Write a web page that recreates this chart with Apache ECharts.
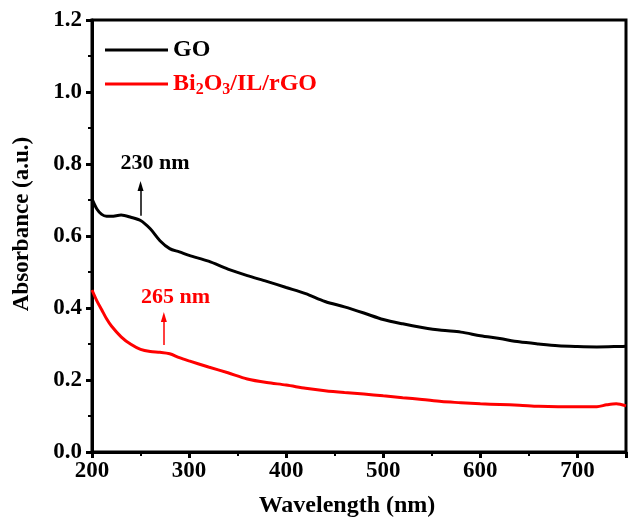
<!DOCTYPE html>
<html>
<head>
<meta charset="utf-8">
<script src="https://cdn.jsdelivr.net/npm/echarts@6/dist/echarts.min.js"></script>
<style>html,body{margin:0;padding:0;background:#fff}#c{width:630px;height:525px}</style>
</head>
<body>
<div id="c"></div>
<script>
var goWave = [200,205,210,215,220,230,240,250,260,270,280,290,300,320,340,360,380,400,420,440,460,480,500,520,540,560,580,600,620,640,660,680,700,720,740,750];
var goAbs  = [0.703,0.675,0.660,0.655,0.655,0.658,0.652,0.643,0.620,0.587,0.565,0.556,0.546,0.530,0.508,0.490,0.474,0.457,0.440,0.418,0.403,0.386,0.368,0.356,0.346,0.338,0.333,0.323,0.315,0.306,0.300,0.295,0.293,0.292,0.293,0.294];
var bgWave = [200,205,210,215,220,230,240,250,260,270,280,290,300,320,340,360,380,400,420,440,460,480,500,520,540,560,580,600,620,640,660,680,700,720,730,740,750];
var bgAbs  = [0.450,0.420,0.395,0.370,0.350,0.320,0.299,0.285,0.279,0.277,0.273,0.262,0.253,0.236,0.220,0.203,0.193,0.186,0.177,0.170,0.165,0.161,0.156,0.151,0.146,0.140,0.137,0.134,0.132,0.130,0.127,0.126,0.126,0.126,0.131,0.134,0.128];
var xTicks = {min:200, max:750, interval:100};
var yTicks = {min:0, max:1.2, interval:0.2};
var seriesNames = ['GO','Bi2O3/IL/rGO'];
var peakGO = {label:'230 nm', textAt:[265,0.803], arrowFrom:[250,0.656], arrowTo:[250,0.739]};
var peakBG = {label:'265 nm', textAt:[286,0.430], arrowFrom:[274,0.297], arrowTo:[274,0.375]};

function zip(a,b){return a.map(function(v,i){return [v,b[i]];});}
var FONT = '"Liberation Serif","Times New Roman",serif';

function annot(p,color){
  return {
    markPoint:{symbol:'circle',symbolSize:0,silent:true,
      label:{show:true,position:'inside',formatter:p.label,color:color,fontFamily:FONT,fontWeight:'bold',fontSize:22},
      data:[{coord:p.textAt}]},
    markLine:{silent:true,symbol:['none','triangle'],symbolSize:[6,10],
      itemStyle:{color:color},
      lineStyle:{color:color,width:1.5,type:'solid'},label:{show:false},
      data:[[{coord:p.arrowFrom},{coord:p.arrowTo}]]}
  };
}

var chart = echarts.init(document.getElementById('c'));
var s1 = Object.assign({name:seriesNames[0],type:'line',data:zip(goWave,goAbs),showSymbol:false,smooth:0.3,
  lineStyle:{color:'#000',width:3},itemStyle:{color:'#000'}}, annot(peakGO,'#000'));
var s2 = Object.assign({name:seriesNames[1],type:'line',data:zip(bgWave,bgAbs),showSymbol:false,smooth:0.3,
  lineStyle:{color:'#ff0000',width:3},itemStyle:{color:'#ff0000'}}, annot(peakBG,'#ff0000'));

chart.setOption({
  animation:false,
  grid:{left:92,right:4,top:20,bottom:73,show:true,borderColor:'#000',borderWidth:3},
  legend:{orient:'vertical',left:100,top:33,itemWidth:63,itemHeight:3,itemGap:10,icon:'rect',
    data:[{name:seriesNames[0],textStyle:{color:'#000'}},{name:seriesNames[1],textStyle:{color:'#ff0000'}}],
    textStyle:{fontFamily:FONT,fontWeight:'bold',fontSize:24,
      rich:{b:{fontFamily:FONT,fontWeight:'bold',fontSize:24,color:'#ff0000'},
            s:{fontFamily:FONT,fontWeight:'bold',fontSize:16,color:'#ff0000',padding:[12,0,0,0]}}},
    formatter:function(n){ if(n==='GO') return 'GO'; return '{b|Bi}{s|2}{b|O}{s|3}{b|/IL/rGO}'; }
  },
  xAxis:{type:'value',min:xTicks.min,max:xTicks.max,interval:xTicks.interval,
    name:'Wavelength (nm)',nameLocation:'middle',nameGap:42,
    nameTextStyle:{fontFamily:FONT,fontWeight:'bold',fontSize:24,color:'#000',padding:[0,24,0,0]},
    axisLine:{lineStyle:{color:'#000',width:3}},
    axisTick:{show:true,inside:false,length:6,lineStyle:{color:'#000',width:3}},
    minorTick:{show:true,splitNumber:2,length:4,lineStyle:{color:'#000',width:2}},
    axisLabel:{showMaxLabel:false,margin:8,fontFamily:FONT,fontWeight:'bold',fontSize:23,color:'#000'},
    splitLine:{show:false}},
  yAxis:{type:'value',min:yTicks.min,max:yTicks.max,interval:yTicks.interval,
    name:'Absorbance (a.u.)',nameLocation:'middle',nameGap:58,
    nameTextStyle:{fontFamily:FONT,fontWeight:'bold',fontSize:23,color:'#000',padding:[0,0,0,24]},
    axisLine:{lineStyle:{color:'#000',width:3}},
    axisTick:{show:true,inside:false,length:6,lineStyle:{color:'#000',width:3}},
    minorTick:{show:true,splitNumber:2,length:4,lineStyle:{color:'#000',width:2}},
    axisLabel:{margin:10,fontFamily:FONT,fontWeight:'bold',fontSize:23,color:'#000',
      formatter:function(v){return v.toFixed(1);}},
    splitLine:{show:false}},
  series:[s1,s2]
});
</script>
</body>
</html>
